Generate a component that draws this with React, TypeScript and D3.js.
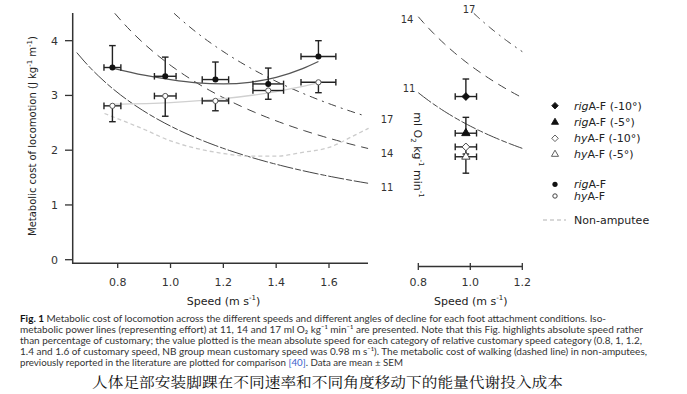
import * as d3 from "d3";

// left panel: speeds and costs (J kg-1 m-1)
const speeds = [0.78, 0.98, 1.17, 1.37, 1.56];
const speedErr = [0.032, 0.041, 0.05, 0.058, 0.066];
const rigCost = [3.51, 3.35, 3.29, 3.21, 3.71];
const rigUpper = [3.91, 3.7, 3.61, 3.5, 4.0];
const hyCost = [2.81, 2.99, 2.9, 3.09, 3.24];
const hyLower = [2.52, 2.62, 2.72, 2.93, 3.05];

// fitted curves
const rigFitSpeed = [0.78, 0.9, 1.0, 1.1, 1.2, 1.3, 1.4, 1.5, 1.56];
const rigFitCost = [3.5, 3.37, 3.29, 3.23, 3.21, 3.24, 3.33, 3.49, 3.62];
const hyFitSpeed = [0.78, 1.0, 1.2, 1.4, 1.56];
const hyFitCost = [2.84, 2.87, 2.94, 3.07, 3.23];

// non-amputee reference
const naSpeed = [0.75, 0.9, 1.0, 1.1, 1.2, 1.3, 1.4, 1.5, 1.6, 1.7, 1.75];
const naCost = [2.67, 2.38, 2.17, 2.03, 1.94, 1.89, 1.89, 1.96, 2.05, 2.28, 2.4];

// iso-metabolic power lines (cost = k / speed)
const isoLabels = ["11", "14", "17"];
const isoK = [2.44, 3.55, 4.56];
const isoDash = ["16,2,6,2", "9,6", "8,5,2,5"];

// right panel: decline conditions
const slopeNames = ["rig", "rig", "hy", "hy"];
const slopeAngles = ["(-10°)", "(-5°)", "(-10°)", "(-5°)"];
const slopeSpeed = 0.983;
const slopeSpeedErr = 0.041;
const slopeCost = [2.98, 2.31, 2.06, 1.88];
const slopeErrEnd = [3.3, 2.6, 1.93, 1.58];

const xTicksLeft = [0.8, 1.0, 1.2, 1.4, 1.6];
const xTicksRight = [0.8, 1.0, 1.2];
const yTicks = [0, 1, 2, 3, 4];

const caption = [
  "Metabolic cost of locomotion across the different speeds and different angles of decline for each foot attachment conditions. Iso-",
  "metabolic power lines (representing effort) at 11, 14 and 17 ml O₂ kg⁻¹ min⁻¹ are presented. Note that this Fig. highlights absolute speed rather",
  "than percentage of customary; the value plotted is the mean absolute speed for each category of relative customary speed category (0.8, 1, 1.2,",
  "1.4 and 1.6 of customary speed, NB group mean customary speed was 0.98 m s⁻¹). The metabolic cost of walking (dashed line) in non-amputees,",
];
const captionEnds = [606, 643, 642, 647];

const FONT = "'DejaVu Sans', sans-serif";
const AX = "#333";

export default function App() {
  const y = d3.scaleLinear().domain([0, 4.5]).range([259.7, 13.3]);
  const xL = d3.scaleLinear().domain([0.8, 1.6]).range([117.7, 329]);
  const xR = d3.scaleLinear().domain([0.8, 1.2]).range([418.3, 522.3]);

  const lineL = d3
    .line<[number, number]>()
    .x((d) => xL(d[0]))
    .y((d) => y(d[1]))
    .curve(d3.curveMonotoneX);
  const lineR = d3
    .line<[number, number]>()
    .x((d) => xR(d[0]))
    .y((d) => y(d[1]))
    .curve(d3.curveMonotoneX);

  const isoPts = (k: number, v0: number, v1: number) => {
    const start = Math.max(v0, k / 4.5);
    return d3.range(0, 41).map((i) => {
      const v = start + ((v1 - start) * i) / 40;
      return [v, k / v] as [number, number];
    });
  };

  const zip = (a: number[], b: number[]) => a.map((d, i) => [d, b[i]] as [number, number]);

  const diamond = d3.symbol().type(d3.symbolDiamond2 || d3.symbolDiamond).size(38)();
  const tri = d3.symbol().type(d3.symbolTriangle).size(30)();

  const errBar = (cx: number, cy: number, vx0: number, vx1: number, ey: number, key: string) => (
    <g key={key} stroke="#222" strokeWidth={1.4} fill="none">
      <line x1={cx} x2={cx} y1={cy} y2={ey} />
      <line x1={cx - 3.3} x2={cx + 3.3} y1={ey} y2={ey} />
      <line x1={vx0} x2={vx1} y1={cy} y2={cy} />
      <line x1={vx0} x2={vx0} y1={cy - 3.3} y2={cy + 3.3} />
      <line x1={vx1} x2={vx1} y1={cy - 3.3} y2={cy + 3.3} />
    </g>
  );

  const legendRows = [105.7, 122.3, 138.3, 154.3];
  const capFont = "Lato, 'Open Sans', sans-serif";

  return (
    <svg
      width={687}
      height={394}
      style={{ position: "absolute", left: 0, top: 0, background: "#fff" }}
      fontFamily={FONT}
    >
      {/* iso lines left */}
      {isoK.map((k, i) => (
        <path
          key={"il" + i}
          d={lineL(isoPts(k, i === 0 ? 0.645 : 0.6, i === 2 ? 1.735 : 1.748)) || ""}
          fill="none"
          stroke="#444"
          strokeWidth={1}
          strokeDasharray={isoDash[i]}
        />
      ))}
      {isoK.map((k, i) => (
        <path
          key={"ir" + i}
          d={lineR(isoPts(k, 0.8, 1.2)) || ""}
          fill="none"
          stroke="#444"
          strokeWidth={1}
          strokeDasharray={isoDash[i]}
        />
      ))}
      {/* iso labels */}
      {[187, 153, 119].map((ly, i) => (
        <text key={"ll" + i} x={387} y={ly + 3.5} fontSize={10} textAnchor="middle" fill={AX}>
          {isoLabels[i]}
        </text>
      ))}
      {[
        [409, 88],
        [407, 19],
        [469, 9],
      ].map((p, i) => (
        <text key={"rl" + i} x={p[0]} y={p[1] + 3.5} fontSize={10} textAnchor="middle" fill={AX}>
          {isoLabels[i]}
        </text>
      ))}

      {/* non-amputee */}
      <path
        d={lineL(zip(naSpeed, naCost)) || ""}
        fill="none"
        stroke="#ccc"
        strokeWidth={1.3}
        strokeDasharray="4,3"
      />
      {/* fits */}
      <path d={lineL(zip(hyFitSpeed, hyFitCost)) || ""} fill="none" stroke="#d0d0d0" strokeWidth={1.3} />
      <path d={lineL(zip(rigFitSpeed, rigFitCost)) || ""} fill="none" stroke="#555" strokeWidth={1.3} />

      {/* left error bars and points */}
      {speeds.map((s, i) =>
        errBar(xL(s), y(hyCost[i]), xL(s - speedErr[i]), xL(s + speedErr[i]), y(hyLower[i]), "he" + i)
      )}
      {speeds.map((s, i) =>
        errBar(xL(s), y(rigCost[i]), xL(s - speedErr[i]), xL(s + speedErr[i]), y(rigUpper[i]), "re" + i)
      )}
      {speeds.map((s, i) => (
        <circle key={"hc" + i} cx={xL(s)} cy={y(hyCost[i])} r={2.6} fill="#fff" stroke="#555" strokeWidth={1} />
      ))}
      {speeds.map((s, i) => (
        <circle key={"rc" + i} cx={xL(s)} cy={y(rigCost[i])} r={3} fill="#111" />
      ))}

      {/* right error bars and points */}
      {slopeCost.map((c, i) =>
        errBar(
          xR(slopeSpeed),
          y(c),
          xR(slopeSpeed - slopeSpeedErr),
          xR(slopeSpeed + slopeSpeedErr),
          y(slopeErrEnd[i]),
          "se" + i
        )
      )}
      {slopeCost.map((c, i) => (
        <path
          key={"sp" + i}
          d={(i % 2 === 0 ? diamond : tri) || ""}
          transform={`translate(${xR(slopeSpeed)},${y(c)})`}
          fill={i < 2 ? "#111" : "#fff"}
          stroke={i < 2 ? "#111" : "#444"}
          strokeWidth={1}
        />
      ))}

      {/* left axes */}
      <line x1={72.7} x2={72.7} y1={13} y2={264} stroke={AX} strokeWidth={1.5} />
      <line x1={72} x2={368} y1={263.3} y2={263.3} stroke={AX} strokeWidth={1.5} />
      {yTicks.map((t) => (
        <g key={"yt" + t}>
          <line x1={65} x2={72.7} y1={y(t)} y2={y(t)} stroke={AX} strokeWidth={1.3} />
          <text x={58} y={y(t) + 4} fontSize={11} textAnchor="end" fill={AX}>
            {t}
          </text>
        </g>
      ))}
      {xTicksLeft.map((t) => (
        <g key={"xt" + t}>
          <line x1={xL(t)} x2={xL(t)} y1={263.3} y2={268} stroke={AX} strokeWidth={1.3} />
          <text x={xL(t)} y={286} fontSize={11} textAnchor="middle" fill={AX}>
            {t.toFixed(1)}
          </text>
        </g>
      ))}
      {/* right axis */}
      <line x1={418.3} x2={522.3} y1={266.5} y2={266.5} stroke={AX} strokeWidth={1.5} />
      {xTicksRight.map((t) => (
        <g key={"xr" + t}>
          <line x1={xR(t)} x2={xR(t)} y1={263} y2={270} stroke={AX} strokeWidth={1.3} />
          <text x={xR(t)} y={286} fontSize={11} textAnchor="middle" fill={AX}>
            {t.toFixed(1)}
          </text>
        </g>
      ))}

      {/* axis titles */}
      {[223.5, 470.7].map((cx, i) => (
        <text key={"xtitle" + i} x={cx} y={305} fontSize={11} textAnchor="middle" fill="#222">
          Speed (m s
          <tspan dy={-5} fontSize={7}>
            -1
          </tspan>
          <tspan dy={5}>)</tspan>
        </text>
      ))}
      <text transform="translate(36,136) rotate(-90)" fontSize={10} textAnchor="middle" fill="#222">
        Metabolic cost of locomotion (J kg
        <tspan dy={-4} fontSize={7}>
          -1
        </tspan>
        <tspan dy={4}> m</tspan>
        <tspan dy={-4} fontSize={7}>
          -1
        </tspan>
        <tspan dy={4}>)</tspan>
      </text>
      <text transform="translate(414,155) rotate(90)" fontSize={11} textAnchor="middle" fill="#222">
        ml O
        <tspan dy={3} fontSize={7}>
          2
        </tspan>
        <tspan dy={-3}> kg</tspan>
        <tspan dy={-5} fontSize={7}>
          -1
        </tspan>
        <tspan dy={5}> min</tspan>
        <tspan dy={-5} fontSize={7}>
          -1
        </tspan>
      </text>

      {/* legend */}
      {slopeNames.map((n, i) => (
        <g key={"lg" + i}>
          <path
            d={(i % 2 === 0 ? diamond : tri) || ""}
            transform={`translate(555,${legendRows[i]}) scale(0.85)`}
            fill={i < 2 ? "#111" : "#fff"}
            stroke={i < 2 ? "#111" : "#444"}
            strokeWidth={1}
          />
          <text x={574} y={legendRows[i] + 4} fontSize={11} fill="#222">
            <tspan fontStyle="italic">{n}</tspan>A-F {slopeAngles[i]}
          </text>
        </g>
      ))}
      <circle cx={555} cy={184.3} r={2.6} fill="#111" />
      <text x={574} y={188.3} fontSize={11} fill="#222">
        <tspan fontStyle="italic">rig</tspan>A-F
      </text>
      <circle cx={555} cy={196} r={2.2} fill="#fff" stroke="#444" />
      <text x={574} y={200} fontSize={11} fill="#222">
        <tspan fontStyle="italic">hy</tspan>A-F
      </text>
      <line x1={543} x2={566} y1={220} y2={220} stroke="#ccc" strokeWidth={1.3} strokeDasharray="4,3" />
      <text x={574} y={224} fontSize={11} fill="#222">
        Non-amputee
      </text>

      {/* caption */}
      {caption.map((c, i) => (
        <text
          key={"cap" + i}
          x={20}
          y={321.5 + i * 11.1}
          fontSize={9.3}
          fontFamily={capFont}
          fill="#333"
          textLength={captionEnds[i] - 20}
          lengthAdjust="spacingAndGlyphs"
        >
          {i === 0 ? (
            <>
              <tspan fontWeight="bold" fill="#111">
                Fig. 1
              </tspan>{" "}
              {c}
            </>
          ) : (
            c
          )}
        </text>
      ))}
      <text
        x={20}
        y={321.5 + 4 * 11.1}
        fontSize={9.3}
        fontFamily={capFont}
        fill="#333"
        textLength={383}
        lengthAdjust="spacingAndGlyphs"
      >
        previously reported in the literature are plotted for comparison <tspan fill="#3a5fcd">[40]</tspan>. Data are
        mean ± SEM
      </text>
      <text
        x={92}
        y={387}
        fontSize={14}
        fontFamily="'Noto Serif CJK SC', serif"
        fill="#111"
        textLength={471}
        lengthAdjust="spacingAndGlyphs"
      >
        人体足部安装脚踝在不同速率和不同角度移动下的能量代谢投入成本
      </text>
    </svg>
  );
}
